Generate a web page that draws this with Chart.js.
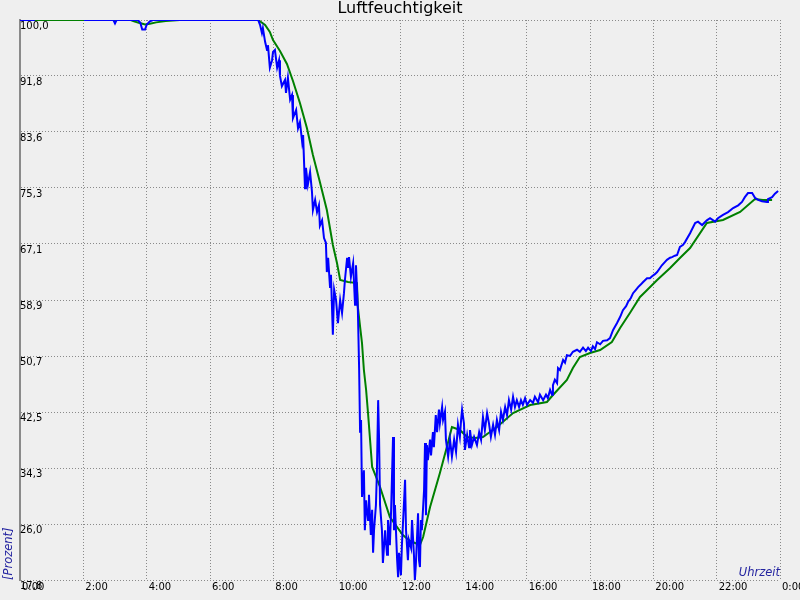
<!DOCTYPE html>
<html>
<head>
<meta charset="utf-8">
<script src="https://cdn.jsdelivr.net/npm/chart.js@4/dist/chart.umd.min.js"></script>
<style>
  html, body { margin: 0; padding: 0; background: #efefef; }
  #c { display: block; }
</style>
</head>
<body>
<canvas id="c" width="800" height="600"></canvas>
<script>
// ---- data (hours of day, relative humidity in %) ----
const chartTitle = 'Luftfeuchtigkeit';
const xAxisTitle = 'Uhrzeit';
const yAxisTitle = '[Prozent]';

const xTickHours = [0, 2, 4, 6, 8, 10, 12, 14, 16, 18, 20, 22, 24];
const xTickLabels = ['0:00', '2:00', '4:00', '6:00', '8:00', '10:00', '12:00', '14:00', '16:00', '18:00', '20:00', '22:00', '0:00'];
const yTickValues = [17.8, 26.02, 34.24, 42.46, 50.68, 58.9, 67.12, 75.34, 83.56, 91.78, 100.0];
const yTickLabels = ['17,8', '26,0', '34,3', '42,5', '50,7', '58,9', '67,1', '75,3', '83,6', '91,8', '100,0'];

// measured humidity (blue)
const measuredTime = [
  0, 0.47, 1.2, 2.02, 2.95, 3.0, 3.05, 3.72, 3.8, 3.86, 3.95, 4.0, 4.1, 4.2, 5, 6, 7, 7.52,
  7.58, 7.64, 7.67, 7.74, 7.8, 7.83, 7.89, 7.96, 7.99, 8.05, 8.12, 8.18, 8.21, 8.27, 8.37, 8.4, 8.46, 8.53,
  8.59, 8.62, 8.72, 8.78, 8.84, 8.91, 8.94, 9.0, 9.03, 9.09, 9.16, 9.22, 9.25, 9.32, 9.38, 9.44, 9.47, 9.54,
  9.6, 9.66, 9.69, 9.73, 9.79, 9.82, 9.88, 9.92, 9.98, 10.04, 10.11, 10.17, 10.23, 10.26, 10.33, 10.36, 10.39,
  10.45, 10.52, 10.58, 10.61, 10.67, 10.71, 10.74, 10.77, 10.8, 10.86, 10.89, 10.93, 10.99, 11.02, 11.08,
  11.12, 11.15, 11.18, 11.24, 11.27, 11.31, 11.34, 11.37, 11.43, 11.46, 11.53, 11.59, 11.62, 11.68, 11.72,
  11.78, 11.81, 11.84, 11.91, 11.94, 11.97, 12.03, 12.06, 12.13, 12.16, 12.19, 12.25, 12.28, 12.35, 12.38,
  12.44, 12.47, 12.5, 12.57, 12.6, 12.63, 12.66, 12.69, 12.76, 12.79, 12.82, 12.85, 12.88, 12.95, 12.98,
  13.04, 13.07, 13.13, 13.17, 13.23, 13.26, 13.33, 13.36, 13.42, 13.45, 13.52, 13.58, 13.64, 13.71, 13.77,
  13.83, 13.89, 13.93, 13.96, 14.02, 14.05, 14.12, 14.18, 14.21, 14.27, 14.34, 14.43, 14.5, 14.56, 14.62,
  14.68, 14.75, 14.81, 14.87, 14.94, 15.0, 15.06, 15.13, 15.19, 15.25, 15.32, 15.38, 15.44, 15.51, 15.57,
  15.63, 15.69, 15.76, 15.82, 15.88, 15.95, 16.01, 16.11, 16.2, 16.26, 16.36, 16.42, 16.52, 16.61, 16.67,
  16.74, 16.8, 16.83, 16.89, 16.96, 16.99, 17.05, 17.15, 17.21, 17.27, 17.37, 17.46, 17.59, 17.68, 17.78,
  17.87, 17.94, 18.03, 18.09, 18.16, 18.22, 18.32, 18.41, 18.54, 18.63, 18.73, 18.85, 18.95, 19.04, 19.14,
  19.2, 19.29, 19.36, 19.45, 19.52, 19.61, 19.67, 19.8, 19.89, 19.96, 20.05, 20.12, 20.21, 20.27, 20.37,
  20.43, 20.53, 20.59, 20.68, 20.75, 20.84, 20.94, 21.0, 21.16, 21.32, 21.41, 21.54, 21.69, 21.79, 21.95,
  22.04, 22.2, 22.36, 22.52, 22.68, 22.8, 22.89, 22.99, 23.12, 23.21, 23.31, 23.43, 23.59, 23.62, 23.75,
  23.84, 23.94
];
const measuredValue = [
  100, 100, null, 100, 100, 99.5, 100, 100, 99.6, 98.6, 98.6, 99.3, 99.8, 100, 100, 100, 100, 100,
  99.3, 98.1, 98.8, 96.8, 95.6, 96.3, 93.0, 94.1, 95.3, 95.6, 93.0, 94.1, 91.8, 90.3, 91.2, 89.3, 91.5, 88.3,
  89.0, 85.6, 86.8, 84.1, 85.0, 82.1, 83.1, 75.3, 78.3, 75.8, 77.7, 74.8, 72.1, 73.6, 71.8, 72.8, 69.8, 70.6,
  68.0, 67.3, 63.0, 65.1, 60.8, 62.6, 53.8, 60.4, 58.9, 55.5, 58.9, 57.0, 59.9, 61.8, 65.1, 63.6, 65.2,
  62.3, 64.3, 58.2, 64.0, 57.4, 48.6, 39.4, 41.3, 30.0, 33.9, 25.1, 29.5, 26.6, 30.3, 24.4,
  28.1, 21.8, 25.1, 28.8, 33.5, 44.2, 38.4, 28.8, 25.1, 20.3, 25.1, 21.5, 26.6, 22.9, 28.1,
  38.8, 25.1, 28.8, 20.7, 18.2, 21.8, 18.5, 22.9, 29.5, 32.5, 25.1, 20.7, 23.7, 22.5, 26.6,
  21.5, 17.8, 20.0, 27.6, 20.7, 19.7, 26.6, 25.1, 31.0, 37.9, 27.3, 37.6, 35.4, 38.4, 36.1,
  39.5, 37.3, 42.0, 39.5, 42.8, 40.8, 43.2, 41.3, 42.5, 38.4, 35.9, 38.4, 35.9, 38.4, 36.6,
  40.6, 38.8, 41.3, 42.8, 40.8, 36.9, 39.1, 37.3, 39.8, 37.6, 38.8, 37.6, 39.5, 38.4, 41.7,
  39.8, 42.3, 40.8, 38.8, 40.6, 39.1, 41.3, 39.8, 42.5, 41.3, 43.2, 42.0, 44.2, 42.8, 44.7,
  43.2, 44.2, 43.2, 44.2, 43.5, 44.5, 43.5, 44.2, 43.8, 44.7, 43.9, 45.0, 44.2, 45.0, 44.5,
  45.7, 45.0, 46.4, 47.2, 46.7, 48.9, 48.6, 50.1, 49.7, 50.8, 50.7, 51.3, 51.6, 51.3, 51.9,
  51.4, 51.9, 51.4, 52.1, 51.7, 52.7, 52.4, 52.9, 53.0, 53.3, 54.5, 55.5, 56.4, 57.4, 58.0,
  58.6, 59.2, 59.9, 60.4, 60.8, 61.2, 61.5, 62.1, 62.1, 62.4, 62.7, 63.0, 63.6, 64.0, 64.5,
  64.8, 65.1, 65.2, 65.4, 65.5, 66.7, 67.0, 67.4, 68.7, 70.2, 70.4, 69.9, 70.6, 70.9, 70.4,
  70.9, 71.4, 71.8, 72.4, 72.8, 73.3, 74.0, 74.6, 74.6, 73.9, 73.6, 73.4, 73.3, 73.7, 74.0,
  74.5, 74.9
];

// smoothed humidity (green)
const smoothedTime = [
  0, 3.5, 3.6, 3.75, 3.95, 4.1, 4.3, 4.6, 5.05, 7.52, 7.74, 7.89, 7.99, 8.21, 8.43, 8.62, 8.84, 9.06,
  9.25, 9.47, 9.69, 9.88, 10.01, 10.11, 10.36, 10.64, 10.67, 10.74, 10.8, 10.86, 10.93, 10.99, 11.12,
  11.37, 11.68, 12.09, 12.32, 12.63, 12.73, 12.95, 13.26, 13.48, 13.64, 13.89, 14.12, 14.37, 14.62,
  15.06, 15.57, 16.11, 16.64, 16.83, 17.27, 17.46, 17.68, 18.0, 18.32, 18.69, 18.95, 19.26, 19.58,
  19.74, 20.12, 20.53, 20.84, 21.16, 21.69, 22.2, 22.74, 23.21, 23.46, 23.75
];
const smoothedValue = [
  100, 100, 99.8, 99.6, 99.35, 99.45, 99.65, 99.85, 100, 100, 99.27, 98.24, 97.06, 95.45, 93.54, 91.05, 87.82, 84.15,
  80.18, 76.22, 72.11, 66.97, 64.33, 61.83, 61.54, 61.39, 57.87, 54.94, 52.59, 48.62, 45.69, 42.31, 34.39,
  31.45, 27.05, 24.4, 23.52, 22.94, 24.11, 28.51, 33.5, 37.32, 40.26, 39.82, 38.79, 38.64, 38.79,
  40.26, 42.31, 43.49, 43.93, 44.95, 47.16, 48.92, 50.53, 51.12, 51.56, 52.73, 54.79, 56.99, 59.34,
  60.07, 61.83, 63.6, 65.06, 66.53, 70.2, 70.64, 71.82, 73.72, 73.58, 73.58
];

// ---- chart ----
const toPoints = (t, v) => t.map((x, i) => ({ x: x, y: v[i] }));
Chart.defaults.font.family = "'DejaVu Sans', sans-serif";
Chart.defaults.color = '#000000';

const GRID = '#8a8a8a';

new Chart(document.getElementById('c'), {
  type: 'line',
  data: {
    datasets: [
      {
        label: 'Messwert',
        data: toPoints(measuredTime, measuredValue),
        borderColor: '#0000ff',
        backgroundColor: '#0000ff',
        borderWidth: 2,
        pointRadius: 0,
        tension: 0,
        spanGaps: false
      },
      {
        label: 'Geglättet',
        data: toPoints(smoothedTime, smoothedValue),
        borderColor: '#008000',
        backgroundColor: '#008000',
        borderWidth: 2,
        pointRadius: 0,
        tension: 0
      }
    ]
  },
  options: {
    responsive: false,
    animation: false,
    events: [],
    layout: { padding: 0 },
    plugins: {
      legend: { display: false },
      tooltip: { enabled: false },
      title: {
        display: true,
        text: chartTitle,
        color: '#000000',
        font: { size: 16, weight: 'normal', lineHeight: 1.15 },
        padding: { top: 0, bottom: 1.6 }
      }
    },
    scales: {
      x: {
        type: 'linear',
        min: 0,
        max: 24,
        afterBuildTicks: (s) => { s.ticks = xTickHours.map(v => ({ value: v })); },
        afterFit: (s) => { s.height = 20; s.paddingLeft = 0; s.paddingRight = 0; },
        grid: { color: GRID, lineWidth: 1, drawTicks: false },
        border: { display: false, dash: [1, 2] },
        ticks: {
          autoSkip: false,
          maxRotation: 0,
          minRotation: 0,
          align: 'start',
          labelOffset: 2,
          padding: 1,
          color: '#000000',
          font: { size: 10 },
          callback: (v, i) => xTickLabels[i]
        },
        title: {
          display: true,
          text: xAxisTitle,
          align: 'end',
          color: '#2424a0',
          font: { size: 11.5, style: 'italic' },
          padding: { top: 0, bottom: 20 }
        }
      },
      y: {
        type: 'linear',
        min: 17.8,
        max: 100,
        afterBuildTicks: (s) => { s.ticks = yTickValues.map(v => ({ value: v })); },
        afterFit: (s) => { s.width = 20; s.paddingTop = 0; s.paddingBottom = 0; },
        grid: { color: GRID, lineWidth: 1, drawTicks: false },
        border: { display: true, color: '#8a8a8a', width: 2, dash: [1, 2] },
        ticks: {
          mirror: true,
          padding: 0,
          labelOffset: 6,
          color: '#000000',
          font: { size: 10 },
          callback: (v, i) => yTickLabels[i]
        },
        title: {
          display: true,
          text: yAxisTitle,
          align: 'start',
          color: '#2424a0',
          font: { size: 11.5, style: 'italic' },
          padding: { top: 2, bottom: 0 }
        }
      },
      yRight: {
        type: 'linear',
        position: 'right',
        min: 17.8,
        max: 100,
        afterFit: (s) => { s.width = 20; s.paddingTop = 0; s.paddingBottom = 0; },
        grid: { display: false, drawOnChartArea: false },
        border: { display: false },
        ticks: { display: false },
        title: { display: false }
      }
    }
  }
});
</script>
</body>
</html>
